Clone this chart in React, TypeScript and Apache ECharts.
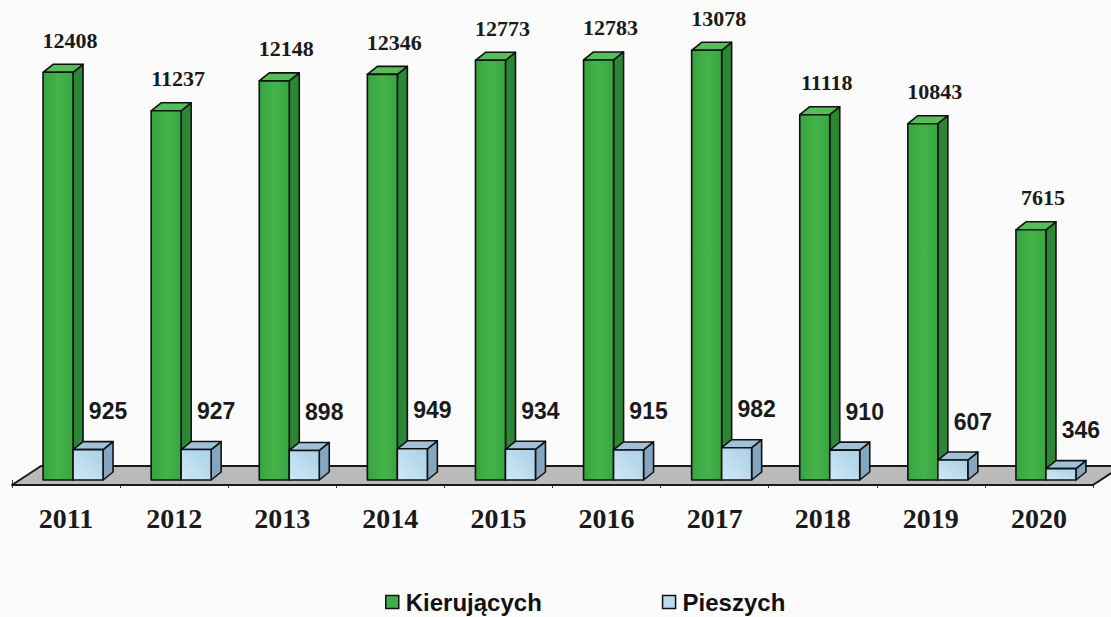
import React, { useEffect, useRef } from "react";
import * as echarts from "echarts";

const years = ["2011", "2012", "2013", "2014", "2015", "2016", "2017", "2018", "2019", "2020"];
const kierujacych = [12408, 11237, 12148, 12346, 12773, 12783, 13078, 11118, 10843, 7615];
const pieszych = [925, 927, 898, 949, 934, 915, 982, 910, 607, 346];
const seriesNames = ["Kierujących", "Pieszych"];

const DX = 10;
const DY = 8;
const EDGE = "#111";

function box(x0: number, x1: number, yTop: number, yBottom: number, c: any) {
  const lw = 1.6;
  return [
    {
      type: "polygon",
      shape: { points: [[x1, yBottom], [x1 + DX, yBottom - DY], [x1 + DX, yTop - DY], [x1, yTop]] },
      style: { fill: c.side, stroke: EDGE, lineWidth: lw, lineJoin: "round" },
    },
    {
      type: "polygon",
      shape: { points: [[x0, yTop], [x0 + DX, yTop - DY], [x1 + DX, yTop - DY], [x1, yTop]] },
      style: { fill: c.top, stroke: EDGE, lineWidth: lw, lineJoin: "round" },
    },
    {
      type: "rect",
      shape: { x: x0, y: yTop, width: x1 - x0, height: yBottom - yTop },
      style: { fill: c.front, stroke: EDGE, lineWidth: lw, lineJoin: "round" },
    },
  ];
}

const greenColors = {
  front: new echarts.graphic.LinearGradient(0, 0, 1, 0, [
    { offset: 0, color: "#35a33f" },
    { offset: 0.5, color: "#44b449" },
    { offset: 1, color: "#38a641" },
  ]),
  side: "#2b8735",
  top: "#52bf57",
};
const blueColors = {
  front: new echarts.graphic.LinearGradient(0, 1, 1, 0, [
    { offset: 0, color: "#cfe9f7" },
    { offset: 1, color: "#a9cfe6" },
  ]),
  side: "#84a6bf",
  top: "#a0c1d8",
};

export default function App() {
  const ref = useRef<HTMLDivElement>(null);
  useEffect(() => {
    if (!ref.current) return;
    const chart = echarts.init(ref.current, null, { renderer: "svg" });

    const renderGreen = (params: any, api: any) => {
      const ci = api.value(0);
      const v = api.value(1);
      const [cx, yTop] = api.coord([ci, v]);
      const [, y0] = api.coord([ci, 0]);
      const children: any[] = [];
      if (params.dataIndex === 0) {
        const cs = params.coordSys;
        const fy = y0 + 5;
        const by = y0 - 14;
        children.push({
          type: "polygon",
          shape: {
            points: [
              [cs.x, fy],
              [cs.x + cs.width, fy],
              [cs.x + cs.width + 29, by],
              [cs.x + 29, by],
            ],
          },
          style: { fill: "#bababa", stroke: "#1a1a1a", lineWidth: 2, lineJoin: "round" },
        });
      }
      const x0 = cx - 23;
      const x1 = cx + 7;
      children.push(...box(x0, x1, yTop, y0, greenColors));
      children.push({
        type: "text",
        x: cx + 4,
        y: yTop - 21,
        style: {
          text: String(v),
          font: 'bold 22px "Liberation Serif"',
          fill: "#1a1a1a",
          align: "center",
          verticalAlign: "bottom",
          textAlign: "center",
          textVerticalAlign: "bottom",
        },
      });
      return { type: "group", children };
    };

    const renderBlue = (params: any, api: any) => {
      const ci = api.value(0);
      const v = api.value(1);
      const [cx, yTop] = api.coord([ci, v]);
      const [, y0] = api.coord([ci, 0]);
      const x0 = cx + 7;
      const x1 = cx + 37;
      const children: any[] = [...box(x0, x1, yTop, y0, blueColors)];
      children.push({
        type: "text",
        x: cx + 42,
        y: yTop - 27,
        style: {
          text: String(v),
          font: 'bold 23px "Liberation Sans"',
          fill: "#1a1a1a",
          align: "center",
          verticalAlign: "bottom",
          textAlign: "center",
          textVerticalAlign: "bottom",
        },
      });
      return { type: "group", children };
    };

    chart.setOption({
      animation: false,
      backgroundColor: "#fbfbfb",
      grid: { left: 12, right: 18, top: 20, bottom: 137 },
      legend: {
        left: 380,
        top: 585,
        itemWidth: 13,
        itemHeight: 13,
        itemGap: 120,
        textStyle: {
          fontFamily: "Liberation Sans",
          fontWeight: "bold",
          fontSize: 24,
          color: "#111",
          padding: [0, 0, 0, 2],
        },
        data: [
          { name: seriesNames[0], icon: "rect", itemStyle: { color: "#3cb043", borderColor: "#111", borderWidth: 1.5 } },
          { name: seriesNames[1], icon: "rect", itemStyle: { color: "#b9dcef", borderColor: "#111", borderWidth: 1.5 } },
        ],
      },
      xAxis: {
        type: "category",
        data: years,
        offset: 5,
        axisLine: { show: false },
        axisTick: { show: true, length: 8, lineStyle: { color: "#333", width: 1 } },
        axisLabel: {
          margin: 19,
          fontFamily: "Liberation Serif",
          fontWeight: "bold",
          fontSize: 28,
          color: "#1a1a1a",
        },
      },
      yAxis: {
        type: "value",
        min: 0,
        max: 14000,
        show: false,
        splitLine: { show: false },
      },
      series: [
        {
          name: seriesNames[0],
          type: "custom",
          renderItem: renderGreen,
          itemStyle: { color: "#3cb043" },
          encode: { x: 0, y: 1 },
          data: kierujacych.map((v, i) => [i, v]),
          z: 2,
        },
        {
          name: seriesNames[1],
          type: "custom",
          renderItem: renderBlue,
          itemStyle: { color: "#b9dcef" },
          encode: { x: 0, y: 1 },
          data: pieszych.map((v, i) => [i, v]),
          z: 3,
        },
      ],
    });
    return () => chart.dispose();
  }, []);
  return (
    <div
      ref={ref}
      style={{ position: "fixed", left: 0, top: 0, width: 1111, height: 617 }}
    />
  );
}
